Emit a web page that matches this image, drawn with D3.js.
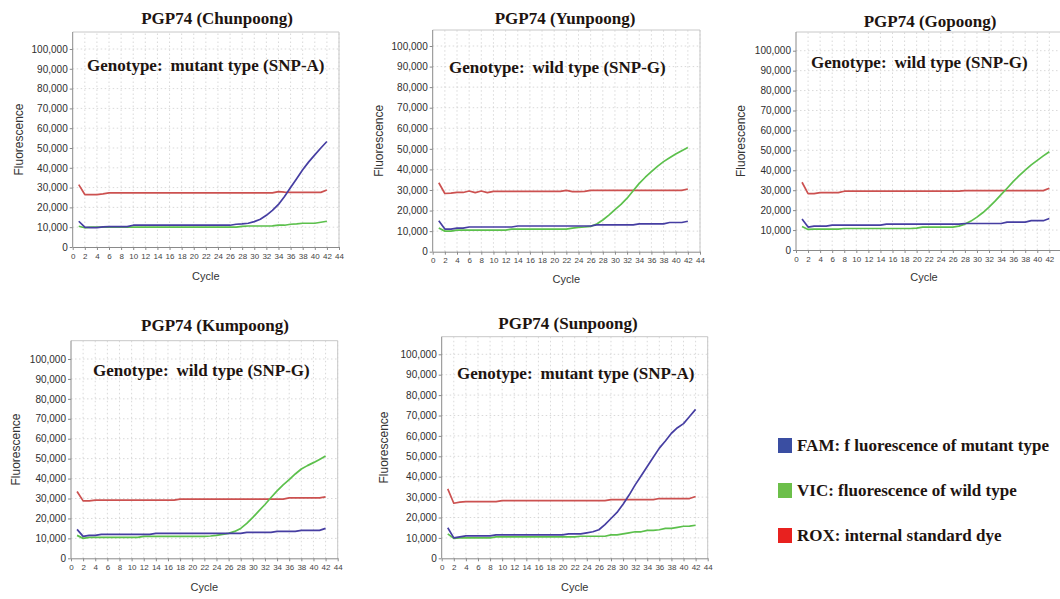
<!DOCTYPE html>
<html><head><meta charset="utf-8">
<script src="https://cdn.jsdelivr.net/npm/d3@7"></script>
<style>body{margin:0;background:#fff}svg{display:block}</style>
</head><body>
<svg id="chart" width="1060" height="599"></svg>
<script>
const cycles = d3.range(1, 43);
const xTicks = d3.range(0, 45, 2);
const yTicks = d3.range(0, 100001, 10000);
const panelTitles = ["PGP74 (Chunpoong)", "PGP74 (Yunpoong)", "PGP74 (Gopoong)", "PGP74 (Kumpoong)", "PGP74 (Sunpoong)"];
const genotypes = ["mutant type (SNP-A)", "wild type (SNP-G)", "wild type (SNP-G)", "wild type (SNP-G)", "mutant type (SNP-A)"];
const legendLabels = ["FAM: f luorescence of mutant type", "VIC:  fluorescence of wild type", "ROX:  internal standard dye"];

// Chunpoong
const famChun = [13000,10000,9800,9800,10200,10300,10300,10300,10300,11000,11000,11000,11000,11000,11000,11000,11000,11000,11000,11000,11000,11000,11000,11000,11000,11000,11500,11700,12000,12800,14000,16000,18500,21500,25500,30000,34500,39000,43000,46500,50000,53300];
const vicChun = [10500,9700,10000,10000,10000,10000,10000,10000,10000,10000,10000,10000,10000,10000,10000,10000,10000,10000,10000,10000,10000,10000,10000,10000,10000,10000,10000,10400,10600,10600,10600,10600,10700,11000,11000,11500,11700,12000,12000,12000,12500,13000];
const roxChun = [31500,26500,26500,26500,26800,27300,27300,27300,27300,27300,27300,27300,27300,27300,27300,27300,27300,27300,27300,27300,27300,27300,27300,27300,27300,27300,27300,27300,27300,27300,27300,27300,27300,28000,27700,27600,27600,27600,27600,27600,27600,28800];
// Yunpoong
const famYun = [15000,11000,11000,11500,11500,12000,12000,12000,12000,12000,12000,12000,12000,12500,12500,12500,12500,12500,12500,12500,12500,12500,12500,12500,12500,12500,13000,13000,13000,13000,13000,13000,13000,13500,13500,13500,13500,13500,14200,14200,14200,14800];
const vicYun = [11500,10000,10000,10500,10500,10500,10500,10500,10500,10500,10500,10500,11000,11000,11000,11000,11000,11000,11000,11000,11000,11000,11500,11800,12000,12300,13500,15400,17800,20500,23000,26000,29600,33200,36200,38900,41500,43800,45700,47500,49100,50600];
const roxYun = [33500,28300,28500,28800,28800,29500,28700,29500,28700,29300,29300,29300,29300,29300,29300,29300,29300,29300,29300,29300,29300,29800,29200,29200,29300,29800,29800,29800,29800,29800,29800,29800,29800,29800,29800,29800,29800,29800,29800,29800,29800,30500];
// Gopoong
const famGo = [15500,11500,12000,12000,12000,12500,12500,12500,12500,12500,12500,12500,12500,12500,13000,13000,13000,13000,13000,13000,13000,13000,13000,13000,13000,13000,13000,13300,13300,13300,13300,13300,13300,13300,14000,14000,14000,14000,14700,14700,14700,15800];
const vicGo = [11800,10300,10500,10500,10500,10500,10500,10800,10800,10800,10800,10800,10800,10800,10800,10800,10800,10800,10800,11000,11500,11500,11500,11500,11500,11500,12000,13000,14500,16500,18800,21500,24500,27800,31000,34300,37300,40100,42700,45000,47200,49300];
const roxGo = [34000,28300,28300,28800,28800,28800,28800,29500,29500,29500,29500,29500,29500,29500,29500,29500,29500,29500,29500,29500,29500,29500,29500,29500,29500,29500,29500,29800,29800,29800,29800,29800,29800,29800,29800,29800,29800,29800,29800,29800,29800,31000];
// Kumpoong
const famKum = [14500,11000,11500,11500,12000,12000,12000,12000,12000,12000,12000,12000,12000,12500,12500,12500,12500,12500,12500,12500,12500,12500,12500,12500,12500,12500,12500,12500,13000,13000,13000,13000,13000,13500,13500,13500,13500,14000,14000,14000,14000,15000];
const vicKum = [11500,10000,10500,10500,10500,10500,10500,10500,10500,10500,10500,11000,11000,11000,11000,11000,11000,11000,11000,11000,11000,11000,11200,11500,12000,12500,13500,15000,17500,20500,23800,27000,30500,33800,36800,39500,42300,44800,46500,48000,49600,51300];
const roxKum = [33500,28800,28800,29200,29200,29200,29200,29200,29200,29200,29200,29200,29200,29200,29200,29200,29200,29700,29700,29700,29700,29700,29700,29700,29700,29700,29700,29700,29700,29700,29700,29700,29700,29700,29700,30300,30300,30300,30300,30300,30300,30800];
// Sunpoong
const famSun = [15000,10000,10500,11000,11000,11000,11000,11000,11500,11500,11500,11500,11500,11500,11500,11500,11500,11500,11500,11500,12000,12000,12000,12500,13000,14000,16500,19500,22500,26500,31000,36000,40500,45000,49500,54000,57500,61300,64000,66000,69500,73000];
const vicSun = [12000,9800,10000,10000,10000,10000,10000,10000,10500,10500,10500,10500,10500,10500,10500,10500,10500,10500,10500,10500,10500,10500,10800,10800,10800,10800,10800,11500,11500,12000,12500,13000,13000,13700,13700,14000,14700,14700,15200,15700,15800,16200];
const roxSun = [34000,27000,27500,27800,27800,27800,27800,27800,27800,28300,28300,28300,28300,28300,28300,28300,28300,28300,28300,28300,28300,28300,28300,28300,28300,28300,28300,28800,28800,28800,28800,28800,28800,28800,28800,29300,29300,29300,29300,29300,29300,30300];

const famSeries = [famChun, famYun, famGo, famKum, famSun];
const vicSeries = [vicChun, vicYun, vicGo, vicKum, vicSun];
const roxSeries = [roxChun, roxYun, roxGo, roxKum, roxSun];

const lineColors = ["#463ea2", "#5cc04c", "#cc5150"];
const legendColors = ["#3a4ea2", "#6cbf4a", "#e8211f"];

// layout (pixels)
const layout = [
  {x0:72.7, x44:339, y0:247, y100:49, top:32, tx:217, ty:24, gx:87, gy:71, cy:280, fx:19},
  {x0:432.7, x44:700, y0:251.7, y100:46, top:30, tx:565, ty:24, gx:449, gy:73, cy:283, fx:379},
  {x0:796, x44:1061.4, y0:250, y100:50.7, top:32, tx:930, ty:27, gx:811, gy:68, cy:281, fx:741},
  {x0:71, x44:337.7, y0:558.3, y100:359, top:340.7, tx:215, ty:331, gx:93, gy:376, cy:591, fx:16},
  {x0:441.7, x44:707.7, y0:558.3, y100:354.3, top:336.7, tx:568, ty:329, gx:457, gy:379, cy:591, fx:384}
];

const svg = d3.select("#chart");
const fmt = d3.format(",");

layout.forEach((L, i) => {
  const x = d3.scaleLinear().domain([0, 44]).range([L.x0, L.x44]);
  const y = d3.scaleLinear().domain([0, 100000]).range([L.y0, L.y100]);
  const g = svg.append("g");

  // grid
  g.selectAll(".vg").data(xTicks.filter(d => d > 0)).join("line")
    .attr("x1", d => x(d)).attr("x2", d => x(d)).attr("y1", L.y0).attr("y2", L.top)
    .attr("stroke", "#cfcfcf").attr("stroke-width", 0.8).attr("stroke-dasharray", "1.5,2.5");
  g.selectAll(".hg").data(yTicks.filter(d => d > 0)).join("line")
    .attr("x1", L.x0).attr("x2", L.x44).attr("y1", d => y(d)).attr("y2", d => y(d))
    .attr("stroke", "#cfcfcf").attr("stroke-width", 0.8).attr("stroke-dasharray", "1.5,2.5");
  // box top & right
  g.append("path").attr("d", `M${L.x0},${L.top}H${L.x44}V${L.y0}`)
    .attr("fill", "none").attr("stroke", "#c8c8c8").attr("stroke-width", 1);

  // axes
  const xTickVals = i === 2 ? xTicks.filter(d => d < 44) : xTicks;
  const xa = g.append("g").attr("transform", `translate(0,${L.y0})`)
    .call(d3.axisBottom(x).tickValues(xTickVals).tickSize(3).tickPadding(3).tickSizeOuter(0));
  xa.select(".domain").attr("stroke", "#8a8a8a");
  xa.selectAll(".tick line").attr("stroke", "#8a8a8a");
  xa.selectAll("text").attr("font-family", "Liberation Sans, Arial, sans-serif").attr("font-size", 8).attr("fill", "#444");

  const ya = g.append("g").attr("transform", `translate(${L.x0},0)`)
    .call(d3.axisLeft(y).tickValues(yTicks).tickFormat(fmt).tickSize(3).tickPadding(2).tickSizeOuter(0));
  ya.select(".domain").attr("stroke", "#8a8a8a").attr("d", `M0,${L.y0}V${L.top}`);
  ya.selectAll(".tick line").attr("stroke", "#8a8a8a");
  ya.selectAll("text").attr("font-family", "Liberation Sans, Arial, sans-serif").attr("font-size", 10).attr("fill", "#2e2e2e");

  // lines
  const line = d3.line().x((d, j) => x(cycles[j])).y(d => y(d));
  [roxSeries[i], vicSeries[i], famSeries[i]].forEach((s, k) => {
    g.append("path").datum(s).attr("d", line).attr("fill", "none")
      .attr("stroke", [lineColors[2], lineColors[1], lineColors[0]][k]).attr("stroke-width", 1.7)
      .attr("stroke-linejoin", "round");
  });

  // texts
  g.append("text").attr("x", L.tx).attr("y", L.ty).attr("text-anchor", "middle")
    .attr("font-family", "Liberation Serif, Times New Roman, serif").attr("font-weight", "bold")
    .attr("font-size", 17).attr("fill", "#1e1410").text(panelTitles[i]);
  const gt = g.append("text").attr("x", L.gx).attr("y", L.gy)
    .attr("font-family", "Liberation Serif, Times New Roman, serif").attr("font-weight", "bold")
    .attr("font-size", 17).attr("fill", "#1e1410");
  gt.append("tspan").text("Genotype:");
  gt.append("tspan").attr("dx", 8).text(genotypes[i]);
  g.append("text").attr("x", (L.x0 + Math.min(L.x44, 1060)) / 2 + (i === 2 ? -4 : 0)).attr("y", L.cy).attr("text-anchor", "middle")
    .attr("font-family", "Liberation Sans, Arial, sans-serif").attr("font-size", 11).attr("fill", "#333").text("Cycle");
  g.append("text").attr("transform", `translate(${L.fx},${(L.y0 + L.top) / 2}) rotate(-90)`)
    .attr("text-anchor", "middle").attr("dy", "0.35em")
    .attr("font-family", "Liberation Sans, Arial, sans-serif").attr("font-size", 12).attr("fill", "#333").text("Fluorescence");
});

// legend
const lg = svg.append("g");
const legendY = [445, 490, 535];
legendLabels.forEach((t, k) => {
  lg.append("rect").attr("x", 778).attr("y", legendY[k] - 7).attr("width", 14).attr("height", 15).attr("fill", legendColors[k]);
  lg.append("text").attr("x", 797).attr("y", legendY[k] + 6)
    .attr("font-family", "Liberation Serif, Times New Roman, serif").attr("font-weight", "bold")
    .attr("font-size", 17).attr("fill", "#1e1410").text(t);
});
</script>
</body></html>
